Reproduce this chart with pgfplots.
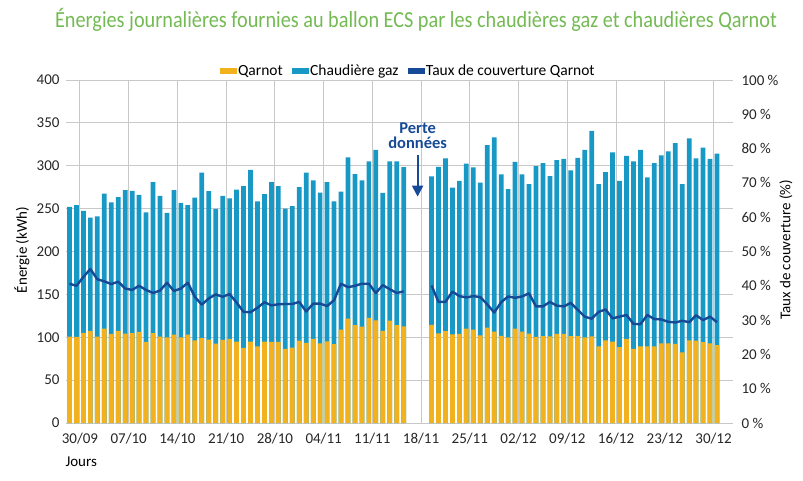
\documentclass[border=0pt]{standalone}
\usepackage{fontspec}
\setmainfont{Carlito}
\newfontfamily\titlefont{Carlito}[FakeStretch=0.88]
\usepackage{pgfplots}
\pgfplotsset{compat=1.18}
\usepackage{pgfplotstable}
\usetikzlibrary{arrows.meta}
\definecolor{qyellow}{RGB}{242,178,30}
\definecolor{cblue}{RGB}{24,152,196}
\definecolor{tline}{RGB}{22,74,150}
\definecolor{tgreen}{RGB}{116,186,84}
\definecolor{gridgray}{RGB}{200,200,200}

\pgfplotstableread{
x q tot pct
-2 100.8 252.0 40.6
-1 100.4 254.0 40.0
0 105.0 247.3 42.6
1 107.4 239.5 44.9
2 100.8 241.0 41.9
3 110.0 267.6 41.3
4 104.0 257.4 40.5
5 107.4 263.3 41.2
6 104.3 271.5 39.2
7 104.7 270.7 38.8
8 106.2 266.0 40.0
9 94.5 245.7 38.8
10 104.7 280.8 37.9
11 100.8 264.8 38.6
12 100.0 245.0 40.9
13 103.0 271.5 38.5
14 100.0 256.7 39.2
15 103.0 254.0 40.9
16 96.5 262.9 36.8
17 99.2 292.1 34.5
18 97.3 270.3 36.3
19 92.6 249.7 37.5
20 96.9 264.8 36.8
21 98.0 262.1 37.6
22 94.9 272.2 35.1
23 87.6 276.1 32.4
24 95.0 295.2 32.3
25 89.5 258.6 33.6
26 95.0 266.8 35.2
27 94.6 280.8 34.3
28 94.6 276.1 34.6
29 86.5 250.0 34.7
30 87.8 252.8 34.7
31 96.1 275.0 35.3
32 93.4 292.1 32.5
33 98.1 282.8 34.8
34 93.0 268.7 34.8
35 95.2 280.8 34.1
36 91.9 258.6 35.8
37 109.0 269.9 40.6
38 121.7 309.7 39.6
39 114.0 290.2 40.0
40 112.5 282.8 40.6
41 122.7 305.0 40.6
42 119.7 318.6 37.9
43 107.3 268.4 40.2
44 119.5 305.0 39.0
45 114.0 305.0 37.9
46 112.7 298.4 38.4
47 nan nan nan
48 nan nan nan
49 nan nan nan
50 114.5 287.5 40.1
51 104.5 298.8 35.3
52 107.0 308.5 35.3
53 103.5 274.6 38.3
54 104.0 282.4 37.0
55 110.2 302.6 36.6
56 108.9 298.0 37.0
57 102.2 280.4 36.7
58 111.2 324.1 34.6
59 106.5 333.0 32.2
60 101.5 289.8 35.2
61 100.0 272.6 36.9
62 110.2 304.6 36.5
63 106.5 289.8 36.9
64 104.2 278.5 37.8
65 100.5 299.5 34.0
66 101.2 303.0 34.0
67 101.0 287.8 35.3
68 104.0 306.5 34.2
69 103.8 308.1 34.0
70 101.2 294.5 35.0
71 101.2 309.3 33.0
72 100.0 318.4 31.0
73 101.0 340.6 30.4
74 89.5 278.6 32.4
75 96.4 292.7 33.1
76 95.0 315.5 30.5
77 88.4 282.4 31.0
78 98.0 311.6 31.5
79 86.5 305.0 28.9
80 89.5 318.6 28.8
81 89.5 286.3 31.5
82 89.5 303.0 30.3
83 92.8 312.0 30.2
84 92.8 316.7 29.5
85 92.4 326.4 29.3
86 82.5 278.5 29.8
87 96.4 331.9 29.4
88 96.2 308.5 31.4
89 94.2 321.0 30.0
90 92.8 308.1 31.0
91 90.7 314.0 29.4
}\data

\begin{document}
\begin{tikzpicture}[x=1pt,y=1pt]
\path[use as bounding box] (0,0) rectangle (803,480);
\node[font=\titlefont\fontsize{23}{26}\selectfont, text=tgreen] at (416,460) {Énergies journalières fournies au ballon ECS par les chaudières gaz et chaudières Qarnot};
\node[rotate=90, font=\fontsize{15}{18}\selectfont] at (22,230) {Énergie (kWh)};
\node[rotate=90, font=\fontsize{15}{18}\selectfont] at (786,230) {Taux de couverture (\%)};
\node[anchor=west, font=\fontsize{15}{18}\selectfont] at (62,18) {Jours};
\begin{axis}[
  at={(66pt,57pt)}, anchor=south west,
  scale only axis, width=667pt, height=343pt,
  xmin=-2.5, xmax=93.3, ymin=0, ymax=400,
  xtick={-0.5,6.5,...,90.5},
  xticklabels={30/09,07/10,14/10,21/10,28/10,04/11,11/11,18/11,25/11,02/12,09/12,16/12,23/12,30/12},
  ytick={0,50,...,400},
  xmajorgrids, ymajorgrids,
  grid style={draw=gridgray, line width=0.9pt},
  axis line style={draw=none},
  major tick length=0pt,
  tick label style={font=\fontsize{15}{18}\selectfont, color=black!85},
  /pgf/number format/assume math mode=true,
  xticklabel style={yshift=-7pt},
  yticklabel style={xshift=-3pt},
  legend style={at={(0.513,1.026)}, anchor=center, draw=none, fill=none,
    font=\fontsize{15.5}{17}\selectfont, legend columns=3,
    /tikz/every even column/.append style={column sep=7pt}},
  legend cell align=left,
]
\addplot[ybar, bar width=0.68, bar shift=0pt, fill=cblue, draw=none, forget plot] table[x=x, y=tot] {\data};
\addplot[ybar, bar width=0.68, bar shift=0pt, fill=qyellow, draw=none, forget plot] table[x=x, y=q] {\data};
\addlegendimage{legend image code/.code={\fill[qyellow] (0pt,-2.5pt) rectangle (16pt,2.5pt);}}
\addlegendentry{Qarnot}
\addlegendimage{legend image code/.code={\fill[cblue] (0pt,-2.5pt) rectangle (16pt,2.5pt);}}
\addlegendentry{Chaudière gaz}
\addlegendimage{legend image code/.code={\fill[tline] (0pt,-2.5pt) rectangle (16pt,2.5pt);}}
\addlegendentry{Taux de couverture Qarnot}
\node[anchor=base, text=tline, font=\bfseries\fontsize{16.5}{18}\selectfont] at (axis cs:48,338) {Perte};
\node[anchor=base, text=tline, font=\bfseries\fontsize{16.5}{18}\selectfont] at (axis cs:48,320) {données};
\draw[tline, line width=2.2pt, -{Triangle[length=11pt,width=11pt]}] (axis cs:48,313) -- (axis cs:48,264);
\end{axis}
\begin{axis}[
  at={(66pt,57pt)}, anchor=south west,
  scale only axis, width=667pt, height=343pt,
  xmin=-2.5, xmax=93.3, ymin=0, ymax=100,
  hide x axis,
  axis y line*=right,
  y axis line style={draw=none},
  major tick length=0pt,
  ytick={0,10,...,100},
  yticklabel={\pgfmathprintnumber{\tick}~\%},
  tick label style={font=\fontsize{15}{18}\selectfont, color=black!85},
  /pgf/number format/assume math mode=true,
  yticklabel style={xshift=5pt},
]
\addplot[tline, line width=2.4pt, line join=round, unbounded coords=jump] table[x=x, y=pct] {\data};
\end{axis}
\end{tikzpicture}
\end{document}
